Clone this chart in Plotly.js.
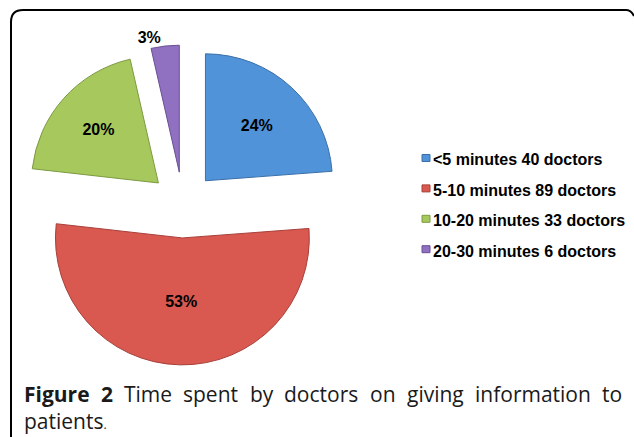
<!DOCTYPE html>
<html><head><meta charset="utf-8">
<script src="https://cdn.plot.ly/plotly-3.0.1.min.js"></script>
<style>html,body{margin:0;padding:0;background:#fff}#chart{width:634px;height:437px}</style>
</head><body><div id="chart"></div>
<script>
// ---- data ----
const categories = ['<5 minutes', '5-10 minutes', '10-20 minutes', '20-30 minutes'];
const doctors = [40, 89, 33, 6];
const percentLabels = ['24%', '53%', '20%', '3%'];
const captionBold = 'Figure 2';
const captionLine1 = 'Time spent by doctors on giving information to';
const captionLine2 = 'patients';

// ---- styles ----
const colors = ['#5093d8', '#d9584f', '#a6c85c', '#9070c0'];
const edgeColors = ['#3b6fa8', '#a8403a', '#7d9a42', '#6a4f94'];
const W = 634, H = 437;
const px = x => x / W;
const py = y => 1 - y / H;
const esc = s => s.replace(/&/g, '&amp;').replace(/</g, '&lt;').replace(/>/g, '&gt;');

const legendLabels = categories.map((c, i) => c + ' ' + doctors[i] + ' doctors');

const trace = {
  type: 'pie',
  values: doctors,
  labels: categories,
  text: percentLabels,
  textinfo: 'text',
  sort: false,
  direction: 'clockwise',
  rotation: 0,
  pull: doctors.map(() => 0.26),
  marker: { colors: colors, line: { color: edgeColors, width: 1 } },
  textposition: ['inside', 'inside', 'inside', 'outside'],
  insidetextorientation: 'horizontal',
  textfont: { family: 'Liberation Sans, Arial, sans-serif', size: 16, color: '#000', weight: 'bold' },
  outsidetextfont: { family: 'Liberation Sans, Arial, sans-serif', size: 16, color: '#000', weight: 'bold' },
  domain: { x: [0.0363, 0.541], y: [0.165, 0.897] },
  hoverinfo: 'none',
  showlegend: false
};

const annotations = [];
const shapes = [];
legendLabels.forEach((lab, i) => {
  const cy = 160 + 30.4 * i;
  annotations.push({
    xref: 'paper', yref: 'paper', x: px(431), y: py(cy), xanchor: 'left', yanchor: 'middle',
    text: '<b>' + esc(lab) + '</b>', showarrow: false,
    font: { family: 'Liberation Sans, Arial, sans-serif', size: 16, color: '#000' }
  });
  shapes.push({
    type: 'rect', xref: 'paper', yref: 'paper',
    x0: px(422), x1: px(430), y0: py(cy - 5.5), y1: py(cy + 1.5),
    fillcolor: colors[i], line: { color: edgeColors[i], width: 1 }
  });
});

// caption: first line justified between x=24 and x=621
const capSize = 21;
const capFont = { family: 'Open Sans, sans-serif', size: capSize, color: '#1a1a1a' };
const ctx = document.createElement('canvas').getContext('2d');
const measure = (t, bold) => { ctx.font = (bold ? 'bold ' : '') + capSize + 'px "Open Sans"'; return ctx.measureText(t).width; };
const words = captionBold.split(' ').map(w => ({ t: w, b: true }))
  .concat(captionLine1.split(' ').map(w => ({ t: w, b: false })));
const widths = words.map(w => measure(w.t, w.b));
const left = 23, right = 621;
const gap = (right - left - widths.reduce((a, b) => a + b, 0)) / (words.length - 1);
let xPos = left;
words.forEach((w, i) => {
  annotations.push({
    xref: 'paper', yref: 'paper', x: px(xPos - 1), y: py(394), xanchor: 'left', yanchor: 'middle',
    text: w.b ? '<b>' + w.t + '</b>' : w.t, showarrow: false, font: capFont
  });
  xPos += widths[i] + gap;
});
annotations.push({
  xref: 'paper', yref: 'paper', x: px(22), y: py(421), xanchor: 'left', yanchor: 'middle',
  text: captionLine2 + '<span style="font-size:12px">.</span>', showarrow: false, font: capFont
});

// rounded frame
const f = { l: 11, t: 10, b: 440, rad: 12 };
shapes.push({
  type: 'path', xref: 'paper', yref: 'paper',
  path: `M ${px(f.l)} ${py(f.b)} L ${px(f.l)} ${py(f.t + f.rad)} Q ${px(f.l)} ${py(f.t)} ${px(f.l + f.rad)} ${py(f.t)} L ${px(626)} ${py(f.t)} Q ${px(631)} ${py(f.t)} ${px(634)} ${py(f.t + 6)}`,
  line: { color: '#000', width: 2 }
});

const layout = {
  width: W, height: H,
  margin: { l: 0, r: 0, t: 0, b: 0 },
  paper_bgcolor: '#fff',
  showlegend: false,
  annotations: annotations,
  shapes: shapes
};

Plotly.newPlot('chart', [trace], layout, { displayModeBar: false, staticPlot: true });
</script>
</body></html>
